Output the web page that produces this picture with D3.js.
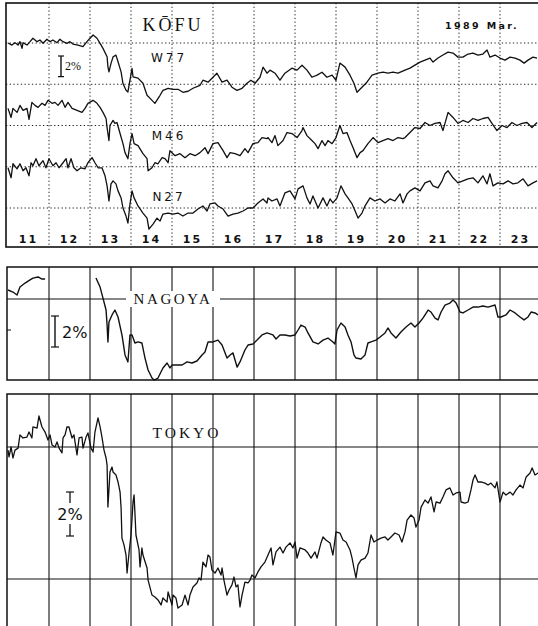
<!DOCTYPE html>
<html>
<head>
<meta charset="utf-8">
<script src="https://cdn.jsdelivr.net/npm/d3@7"></script>
<style>
  html, body { margin: 0; padding: 0; background: #fff; }
  svg { display: block; }
</style>
</head>
<body>
<svg id="chart" width="538" height="626"></svg>
<script>
// Cosmic-ray intensity, 11–23 March 1989 (hours from 11 Mar 00h, % change)
const days = [11, 12, 13, 14, 15, 16, 17, 18, 19, 20, 21, 22, 23];
const kofuTitle = "KŌFU";
const dateLabel = "1989 Mar.";
const kofuNames = ["W77", "M46", "N27"];

const w77 = [[0,0.0],[2.3,-0.2],[4.1,0.03],[5.9,-0.2],[7.0,0.13],[8.2,-0.52],[8.8,0.03],[11.1,-0.2],[12.9,0.13],[14.6,0.46],[17.0,0.13],[18.7,0.29],[20.5,-0.03],[22.8,0.36],[24.6,0.13],[26.3,0.29],[28.7,0.03],[30.4,0.36],[32.2,0.13],[34.5,-0.03],[36.3,0.13],[38.0,-0.1],[41.0,-0.2],[43.9,-0.36],[46.2,0.13],[48.0,0.46],[49.8,0.78],[52.1,0.46],[53.9,-0.03],[55.6,-0.52],[58.0,-1.34],[58.5,-2.31],[59.1,-2.8],[60.3,-1.98],[61.5,-1.34],[63.2,-1.17],[64.4,-1.82],[66.2,-2.8],[67.3,-3.93],[69.1,-4.59],[70.2,-4.75],[71.4,-3.61],[72.6,-2.47],[73.2,-3.29],[76.1,-3.41],[79.0,-3.9],[81.4,-5.07],[84.3,-5.56],[86.0,-5.85],[89.0,-5.07],[90.7,-4.59],[93.7,-4.39],[96.6,-4.49],[99.5,-4.49],[102.4,-4.78],[105.4,-4.68],[108.3,-4.39],[112.4,-4.1],[114.1,-3.61],[117.1,-3.8],[120.0,-3.32],[122.3,-2.93],[125.3,-3.8],[128.2,-3.61],[131.1,-4.29],[134.0,-4.59],[137.0,-4.39],[139.9,-3.9],[142.2,-3.61],[144.6,-3.9],[147.5,-3.32],[149.3,-2.34],[151.6,-2.93],[153.4,-2.63],[156.3,-2.93],[159.2,-3.61],[162.1,-2.93],[166.2,-2.44],[169.2,-2.63],[172.1,-2.15],[175.0,-2.63],[177.9,-3.32],[180.9,-3.12],[183.8,-2.83],[186.7,-3.32],[189.7,-3.12],[192.0,-3.61],[194.3,-1.95],[197.3,-2.34],[200.2,-3.12],[202.5,-3.9],[204.3,-4.78],[207.2,-4.29],[210.1,-3.8],[213.1,-3.12],[216.6,-2.93],[219.5,-2.83],[222.4,-2.93],[225.4,-2.83],[228.3,-2.93],[232.4,-2.63],[235.3,-2.44],[238.2,-2.15],[241.2,-1.85],[244.1,-1.66],[247.0,-1.46],[248.8,-1.85],[251.7,-1.46],[254.6,-1.17],[257.6,-0.88],[260.5,-0.98],[263.4,-1.37],[266.3,-1.37],[269.3,-1.07],[272.2,-0.98],[275.1,-1.17],[278.0,-1.07],[280.4,-0.68],[282.1,-1.37],[285.1,-1.17],[288.0,-1.46],[290.9,-1.66],[293.9,-1.37],[296.8,-1.46],[299.7,-1.66],[302.1,-1.95],[304.4,-1.66],[307.3,-1.37],[309.7,-1.46]];

const m46 = [[0,-0.34],[1.8,-1.22],[2.9,-0.34],[5.3,-0.73],[7.0,-0.05],[8.8,-0.54],[11.1,-0.34],[12.3,-1.41],[14.0,0.24],[15.8,-0.05],[17.6,-0.24],[19.9,0.15],[21.7,-0.05],[23.4,0.44],[25.8,0.15],[27.5,0.24],[29.3,-0.05],[31.6,0.44],[33.4,-0.24],[35.1,0.24],[37.5,-0.34],[40.4,-0.54],[43.3,-0.73],[45.1,-0.34],[46.8,0.15],[49.8,0.44],[52.1,0.15],[53.9,-0.24],[55.6,-0.73],[57.4,-1.32],[58.0,-2.2],[59.1,-3.46],[59.7,-2.0],[61.5,-1.51],[62.6,-1.8],[63.8,-1.71],[65.6,-2.78],[67.3,-3.76],[68.5,-4.63],[70.2,-5.22],[71.4,-3.76],[72.6,-2.78],[73.8,-3.76],[76.1,-3.95],[79.0,-4.73],[81.4,-5.22],[82.0,-6.39],[84.3,-6.1],[86.0,-5.61],[87.8,-5.71],[90.2,-5.12],[91.9,-5.22],[93.7,-5.61],[94.8,-4.44],[97.8,-4.93],[100.7,-4.73],[103.6,-5.12],[106.5,-4.73],[109.5,-4.93],[112.4,-4.63],[115.3,-4.15],[117.1,-4.73],[120.0,-3.76],[122.9,-3.66],[125.9,-4.44],[128.2,-5.12],[130.0,-4.63],[132.9,-4.73],[135.8,-4.93],[138.7,-4.24],[140.5,-4.63],[143.4,-3.76],[146.3,-3.66],[148.7,-3.17],[151.6,-3.27],[152.2,-3.17],[154.5,-3.66],[156.3,-2.98],[158.0,-3.95],[161.0,-3.46],[163.3,-2.68],[166.2,-2.78],[169.2,-3.17],[172.1,-2.49],[172.7,-2.2],[175.0,-2.98],[177.9,-3.46],[179.7,-3.76],[181.5,-4.24],[183.8,-3.46],[185.6,-3.95],[187.3,-3.46],[189.7,-3.76],[192.0,-3.17],[194.3,-2.0],[196.1,-2.78],[198.4,-2.68],[200.2,-3.46],[202.0,-4.15],[204.3,-5.12],[206.1,-4.63],[207.8,-4.44],[210.7,-3.76],[213.7,-3.17],[216.6,-3.66],[219.5,-3.46],[222.4,-3.27],[225.4,-3.46],[228.3,-3.17],[231.2,-3.27],[232.4,-3.17],[235.3,-2.68],[238.2,-2.2],[241.2,-2.29],[244.1,-1.71],[247.0,-2.0],[249.9,-1.8],[252.9,-1.71],[254.6,-2.49],[257.6,-0.73],[260.5,-1.22],[263.4,-1.8],[266.3,-1.51],[269.3,-1.71],[272.2,-1.32],[275.1,-1.51],[278.0,-1.32],[281.0,-1.22],[283.3,-1.8],[286.2,-2.49],[289.2,-2.0],[292.1,-2.2],[295.0,-1.71],[297.9,-2.0],[300.9,-1.8],[303.8,-1.71],[306.7,-2.2],[309.7,-1.71]];

const n27 = [[0,-0.1],[1.8,-1.07],[2.9,0.29],[5.3,-0.2],[7.0,0.29],[8.8,-0.39],[10.5,-0.1],[12.3,-0.88],[13.5,0.39],[14.6,0.1],[16.4,0.78],[18.1,0.1],[20.5,0.59],[22.2,-0.1],[24.0,0.78],[26.3,0.1],[28.1,0.39],[29.9,-0.1],[32.2,0.39],[34.0,0.78],[35.1,-0.1],[36.9,0.78],[38.6,-0.1],[40.4,-0.39],[42.7,-0.1],[45.1,-0.2],[46.8,0.39],[49.2,0.88],[50.9,0.39],[52.7,-0.1],[55.0,-0.1],[56.8,-0.88],[58.0,-1.85],[59.1,-3.32],[60.3,-1.66],[61.5,-1.37],[63.2,-1.66],[64.4,-2.34],[66.2,-3.02],[67.3,-4.0],[69.1,-4.78],[70.2,-5.46],[71.4,-3.61],[72.6,-2.34],[73.8,-3.02],[76.1,-3.8],[79.0,-4.49],[81.4,-4.98],[82.5,-6.05],[84.9,-5.56],[87.2,-4.98],[89.0,-5.27],[90.7,-4.59],[93.7,-4.49],[96.6,-4.59],[99.5,-4.49],[102.4,-4.78],[105.4,-4.49],[108.3,-4.49],[111.2,-4.1],[114.1,-3.8],[116.5,-4.29],[118.2,-3.61],[121.2,-3.51],[122.9,-3.8],[125.9,-4.1],[128.8,-4.78],[131.7,-4.59],[134.6,-4.49],[137.6,-4.29],[140.5,-4.0],[143.4,-4.0],[146.3,-3.51],[149.3,-3.12],[151.6,-3.51],[152.2,-3.02],[154.5,-3.32],[157.5,-3.12],[159.2,-3.8],[162.1,-2.54],[165.1,-2.34],[168.0,-3.12],[169.8,-2.15],[172.7,-1.85],[175.0,-3.02],[176.8,-3.61],[178.5,-2.83],[181.5,-4.0],[184.4,-3.02],[186.7,-3.8],[188.5,-3.12],[190.2,-3.51],[192.6,-3.02],[194.9,-1.85],[197.3,-2.63],[199.0,-3.02],[201.4,-3.61],[203.7,-4.49],[204.9,-4.98],[207.2,-4.49],[209.0,-3.8],[211.9,-3.02],[214.8,-3.32],[217.8,-3.12],[220.7,-3.51],[223.6,-3.12],[226.5,-3.32],[229.5,-2.63],[231.2,-3.51],[233.6,-2.63],[235.3,-2.34],[238.2,-2.05],[241.2,-2.34],[244.1,-1.56],[247.0,-1.37],[248.8,-1.85],[251.7,-2.05],[254.1,-1.37],[255.8,-0.68],[257.6,-0.39],[260.5,-1.07],[263.4,-1.56],[266.3,-1.37],[269.3,-1.17],[272.2,-1.07],[275.1,-1.56],[278.0,-0.88],[280.4,-1.66],[282.1,-0.68],[283.9,-1.85],[286.8,-1.56],[289.8,-1.66],[292.7,-1.37],[295.6,-1.66],[298.5,-1.56],[301.5,-1.17],[304.4,-1.85],[307.3,-1.56],[309.7,-1.37]];

// Nagoya record has a gap on 12 March
const nagoyaA = [[0,0.58],[2.9,0.45],[5.3,0.26],[7.0,0.77],[10.0,1.03],[12.9,1.23],[14.6,1.35],[17.6,1.42],[19.9,1.29],[21.7,1.29]];
const nagoyaB = [[51.5,1.35],[53.9,0.77],[55.6,0.06],[57.4,-0.71],[58.0,-1.68],[58.5,-2.77],[59.1,-1.48],[60.9,-1.03],[62.6,-0.71],[64.4,-1.16],[66.7,-2.32],[68.5,-3.61],[70.2,-4.06],[71.4,-2.32],[72.6,-2.32],[74.3,-2.84],[76.1,-2.77],[78.4,-2.84],[80.2,-3.81],[82.0,-4.58],[84.3,-5.1],[85.5,-5.23],[87.8,-5.1],[90.7,-4.45],[93.1,-4.13],[94.8,-4.45],[96.0,-4.26],[98.9,-4.26],[101.9,-4.26],[104.8,-4.06],[107.7,-4.13],[110.6,-4.0],[113.6,-3.61],[115.3,-3.42],[117.1,-2.77],[120.0,-2.77],[122.9,-2.65],[125.3,-2.97],[128.2,-3.81],[130.0,-3.61],[131.7,-3.48],[134.1,-4.39],[135.8,-4.06],[138.7,-3.29],[140.5,-2.97],[143.4,-2.9],[145.8,-2.65],[148.7,-2.32],[151.6,-2.19],[155.1,-2.32],[156.9,-2.58],[159.2,-2.32],[162.1,-2.32],[165.1,-2.39],[168.0,-2.32],[169.8,-2.0],[171.5,-1.68],[173.9,-1.81],[175.6,-2.19],[178.5,-2.77],[181.5,-2.9],[184.4,-2.65],[187.3,-2.52],[190.2,-2.77],[191.4,-2.9],[192.6,-2.0],[194.9,-1.55],[197.3,-1.81],[199.0,-2.32],[200.8,-2.77],[202.5,-3.61],[203.7,-3.81],[206.6,-3.87],[209.0,-3.61],[210.7,-2.84],[212.5,-2.77],[215.4,-2.65],[217.8,-2.45],[220.7,-2.19],[222.4,-1.87],[224.2,-2.19],[227.1,-2.52],[230.0,-2.13],[233.0,-1.81],[235.9,-1.55],[238.2,-1.81],[240.6,-1.55],[242.9,-1.23],[245.9,-0.71],[247.6,-0.84],[250.0,-1.23],[251.7,-1.35],[253.5,-0.84],[255.8,-0.39],[258.7,-0.26],[260.5,-0.06],[262.3,-0.26],[264.6,-0.84],[266.3,-0.9],[269.3,-0.71],[272.2,-0.52],[275.1,-0.52],[278.0,-0.45],[281.0,-0.52],[285.1,-0.39],[286.8,-1.16],[288.6,-1.16],[291.5,-1.03],[293.9,-0.71],[296.8,-0.9],[299.7,-1.16],[302.1,-1.35],[304.4,-1.16],[306.2,-0.84],[308.5,-0.9],[310.3,-1.03]];

const tokyo = [[0,-0.14],[0.6,-0.45],[1.8,0],[2.9,-0.5],[4.1,-0.14],[5.9,-0.05],[7.0,0.55],[8.8,0.41],[11.1,0.45],[12.3,0.68],[14.0,0.41],[14.6,0.91],[17.0,0.86],[18.1,1.41],[19.9,0.91],[21.7,0.68],[23.4,0.32],[24.6,0.55],[25.8,0.09],[27.5,0],[28.7,0.23],[29.9,-0.05],[31.6,-0.27],[32.2,0.41],[33.4,0.55],[34.5,0.91],[35.7,0.91],[37.5,0.41],[38.6,0.55],[40.4,-0.36],[41.6,0.41],[43.3,0.45],[43.9,-0.05],[45.7,0.45],[46.8,0.64],[48.6,-0.05],[49.8,-0.23],[50.9,0.68],[52.7,1.32],[53.9,0.91],[55.0,0.45],[56.2,-0.14],[57.4,-0.5],[58.0,-0.82],[58.5,-2.73],[59.7,-1.14],[60.9,-0.91],[61.5,-1.14],[63.2,-1.27],[64.4,-1.59],[65.6,-2.05],[66.2,-2.77],[66.7,-4.14],[67.9,-4.45],[69.1,-4.91],[69.7,-5.73],[70.9,-4.77],[72.0,-4.0],[73.2,-2.5],[73.8,-2.18],[74.9,-4.0],[76.7,-4.68],[77.3,-5.45],[78.4,-4.59],[79.0,-4.91],[81.4,-5.5],[82.0,-6.05],[84.3,-6.73],[86.0,-6.82],[87.8,-6.95],[89.6,-7.18],[90.7,-6.86],[93.1,-7.05],[93.7,-6.59],[96.0,-7.18],[96.6,-6.73],[98.3,-6.86],[99.5,-7.32],[101.9,-7.18],[103.6,-6.73],[105.4,-7.18],[106.5,-6.73],[108.3,-6.36],[110.6,-6.18],[111.8,-5.95],[113.0,-6.05],[114.1,-5.23],[115.9,-5.45],[117.1,-4.91],[118.2,-5.0],[119.4,-5.59],[121.2,-5.73],[122.9,-5.5],[124.7,-5.82],[125.3,-5.5],[126.4,-6.05],[128.2,-6.73],[129.4,-6.5],[131.1,-6.27],[132.3,-5.91],[133.5,-6.36],[134.6,-6.27],[135.8,-7.27],[137.0,-6.73],[138.7,-6.14],[140.5,-6.18],[141.7,-6.05],[142.8,-5.82],[144.6,-5.95],[146.3,-5.68],[148.1,-5.45],[150.4,-5.23],[152.2,-4.91],[154.0,-4.59],[155.1,-5.36],[156.9,-4.77],[159.2,-4.55],[161.0,-4.82],[162.7,-4.55],[165.1,-4.36],[166.8,-4.59],[168.0,-4.32],[169.2,-5.05],[170.9,-4.59],[173.9,-4.68],[175.6,-4.82],[177.4,-5.05],[179.7,-4.77],[180.9,-5.05],[183.2,-4.36],[184.4,-4.09],[186.1,-4.23],[188.5,-4.36],[190.2,-4.91],[192.0,-3.86],[194.3,-3.91],[196.1,-4.23],[197.9,-4.32],[200.2,-4.68],[201.4,-5.05],[202.5,-5.5],[203.7,-5.95],[204.9,-5.36],[206.6,-5.14],[209.0,-5.05],[210.7,-4.82],[212.5,-4.0],[214.2,-4.32],[216.0,-4.23],[218.3,-4.14],[220.7,-4.09],[222.4,-4.23],[224.2,-4.09],[226.5,-3.91],[228.9,-4.0],[230.6,-4.32],[232.4,-3.86],[233.6,-3.32],[235.9,-3.09],[237.7,-3.23],[238.8,-3.64],[240.6,-3.32],[241.8,-2.73],[244.1,-2.41],[245.9,-2.55],[247.6,-2.27],[249.4,-2.95],[250.6,-2.5],[252.9,-2.55],[254.6,-2.27],[256.4,-1.95],[258.7,-1.86],[260.5,-2.18],[262.3,-2.09],[264.6,-2.05],[265.2,-2.5],[267.5,-2.55],[269.3,-2.5],[271.0,-1.95],[272.2,-1.5],[273.4,-1.27],[275.1,-1.59],[276.9,-1.59],[279.2,-1.64],[281.0,-1.73],[282.7,-1.64],[285.1,-1.86],[286.2,-1.59],[288.0,-2.5],[289.8,-2.05],[291.5,-2.18],[293.9,-2.05],[295.6,-2.18],[297.4,-1.95],[299.7,-1.73],[301.5,-1.86],[303.3,-1.36],[305.6,-1.18],[306.8,-0.95],[308.5,-1.27],[310.3,-1.18]];

// vertical offsets (%) that stack the three Kofu detectors
const kofuOffsets = [0, -6, -12];
const kofuGrid = [0, -4, -8, -12, -16];
const nagoyaGrid = [0];
const tokyoGrid = [0, -6];

const svg = d3.select("#chart");
const W = 538;
const ink = "#111";

// shared time axis: hours after 11 March 00h
const x = d3.scaleLinear().domain([0, 24 * days.length]).range([8, 541]);
const boundaries = days.slice(1).map(d => (d - days[0]) * 24);

const ySerif = "'Liberation Serif', 'DejaVu Serif', serif";
const ySans = "'DejaVu Sans', 'Liberation Sans', sans-serif";

function trace(g, data, y, off = 0, w = 1.2) {
  g.append("path")
    .datum(data)
    .attr("fill", "none")
    .attr("stroke", ink)
    .attr("stroke-width", w)
    .attr("stroke-linejoin", "round")
    .attr("d", d3.line().x(d => x(d[0])).y(d => y(d[1] + off)));
}

function scaleBar(g, xPos, y0, pxLen, cap) {
  g.append("line").attr("x1", xPos).attr("x2", xPos).attr("y1", y0).attr("y2", y0 + pxLen)
    .attr("stroke", ink).attr("stroke-width", 1.4);
  [y0, y0 + pxLen].forEach(yy => g.append("line")
    .attr("x1", xPos - cap).attr("x2", xPos + cap).attr("y1", yy).attr("y2", yy)
    .attr("stroke", ink).attr("stroke-width", 1.2));
}

/* ---------------- KOFU ---------------- */
const kTop = 3, kBot = 247;
const yK = d3.scaleLinear().domain([0, -16]).range([43, 208]);
const gK = svg.append("g");

gK.selectAll(".hg").data(kofuGrid).join("line")
  .attr("x1", 6).attr("x2", W).attr("y1", d => yK(d)).attr("y2", d => yK(d))
  .attr("stroke", "#222").attr("stroke-width", 1).attr("stroke-dasharray", "1.3,2.4");
gK.selectAll(".vg").data(boundaries).join("line")
  .attr("x1", d => x(d)).attr("x2", d => x(d)).attr("y1", kTop).attr("y2", kBot)
  .attr("stroke", "#222").attr("stroke-width", 1).attr("stroke-dasharray", "1.3,2.4");

gK.append("rect").attr("x", 6).attr("y", kTop).attr("width", 560).attr("height", kBot - kTop)
  .attr("fill", "none").attr("stroke", ink).attr("stroke-width", 1.6);

[w77, m46, n27].forEach((s, i) => trace(gK, s, yK, kofuOffsets[i], 1.3));

gK.selectAll(".day").data(days).join("text")
  .attr("x", d => x((d - days[0]) * 24 + 12)).attr("y", 243)
  .attr("text-anchor", "middle").attr("font-family", ySans).attr("font-weight", "bold")
  .attr("font-size", 11).attr("letter-spacing", 2).attr("fill", ink)
  .text(d => d);

gK.append("text").attr("x", 173).attr("y", 31).attr("text-anchor", "middle")
  .attr("font-family", ySerif).attr("font-size", 18).attr("letter-spacing", 3).attr("fill", ink)
  .text(kofuTitle);
gK.append("text").attr("x", 482).attr("y", 29).attr("text-anchor", "middle")
  .attr("font-family", ySans).attr("font-weight", "bold").attr("font-size", 9.5)
  .attr("letter-spacing", 2.4).attr("fill", ink).text(dateLabel);

const nameY = [62, 140, 201];
kofuNames.forEach((n, i) => gK.append("text").attr("x", 169).attr("y", nameY[i])
  .attr("text-anchor", "middle").attr("font-family", ySans).attr("font-size", 12)
  .attr("letter-spacing", 3).attr("fill", ink).text(n));

scaleBar(gK, 61, 56, yK(-2) - yK(0), 3);
gK.append("text").attr("x", 65).attr("y", 70).attr("font-family", ySerif)
  .attr("font-size", 12).attr("fill", ink).text("2%");

/* ---------------- NAGOYA ---------------- */
const nTop = 267, nBot = 380;
const yN = d3.scaleLinear().domain([0, -5]).range([299, 376.5]);
const gN = svg.append("g");

gN.selectAll(".vg").data(boundaries).join("line")
  .attr("x1", d => x(d)).attr("x2", d => x(d)).attr("y1", nTop).attr("y2", nBot)
  .attr("stroke", ink).attr("stroke-width", 1.1);
gN.selectAll(".hg").data(nagoyaGrid).join("line")
  .attr("x1", 7).attr("x2", W).attr("y1", d => yN(d)).attr("y2", d => yN(d))
  .attr("stroke", ink).attr("stroke-width", 1.1);
gN.append("line").attr("x1", 7).attr("x2", 11).attr("y1", yN(-2)).attr("y2", yN(-2))
  .attr("stroke", ink).attr("stroke-width", 1);
gN.append("rect").attr("x", 7).attr("y", nTop).attr("width", 560).attr("height", nBot - nTop)
  .attr("fill", "none").attr("stroke", ink).attr("stroke-width", 1.5);

trace(gN, nagoyaA, yN, 0, 1.4);
trace(gN, nagoyaB, yN, 0, 1.4);

gN.append("rect").attr("x", 126).attr("y", 291).attr("width", 94).attr("height", 16).attr("fill", "#fff");
gN.append("text").attr("x", 173).attr("y", 304).attr("text-anchor", "middle")
  .attr("font-family", ySerif).attr("font-size", 15).attr("letter-spacing", 2.6).attr("fill", ink)
  .text("NAGOYA");

scaleBar(gN, 55, 316, yN(-2) - yN(0), 4);
gN.append("text").attr("x", 62).attr("y", 338).attr("font-family", ySans)
  .attr("font-size", 16).attr("fill", ink).text("2%");

/* ---------------- TOKYO ---------------- */
const tTop = 394, tBot = 640;
const yT = d3.scaleLinear().domain([0, -6]).range([447, 579]);
const gT = svg.append("g");

gT.selectAll(".vg").data(boundaries).join("line")
  .attr("x1", d => x(d)).attr("x2", d => x(d)).attr("y1", tTop).attr("y2", tBot)
  .attr("stroke", ink).attr("stroke-width", 1.1);
gT.selectAll(".hg").data(tokyoGrid).join("line")
  .attr("x1", 7).attr("x2", W).attr("y1", d => yT(d)).attr("y2", d => yT(d))
  .attr("stroke", ink).attr("stroke-width", 1.1);
gT.append("rect").attr("x", 7).attr("y", tTop).attr("width", 560).attr("height", tBot - tTop)
  .attr("fill", "none").attr("stroke", ink).attr("stroke-width", 1.5);

trace(gT, tokyo, yT, 0, 1.3);

gT.append("text").attr("x", 187).attr("y", 438).attr("text-anchor", "middle")
  .attr("font-family", ySerif).attr("font-size", 15.5).attr("letter-spacing", 3).attr("fill", ink)
  .text("TOKYO");

// 2% bar split around its label
const bT0 = 492, bLen = yT(-2) - yT(0);
gT.append("line").attr("x1", 70).attr("x2", 70).attr("y1", bT0).attr("y2", bT0 + 11)
  .attr("stroke", ink).attr("stroke-width", 1.3);
gT.append("line").attr("x1", 70).attr("x2", 70).attr("y1", bT0 + bLen - 12).attr("y2", bT0 + bLen)
  .attr("stroke", ink).attr("stroke-width", 1.3);
[bT0, bT0 + bLen].forEach(yy => gT.append("line").attr("x1", 66).attr("x2", 74)
  .attr("y1", yy).attr("y2", yy).attr("stroke", ink).attr("stroke-width", 1.2));
gT.append("text").attr("x", 70).attr("y", 520).attr("text-anchor", "middle")
  .attr("font-family", ySans).attr("font-size", 16).attr("fill", ink).text("2%");
</script>
</body>
</html>
